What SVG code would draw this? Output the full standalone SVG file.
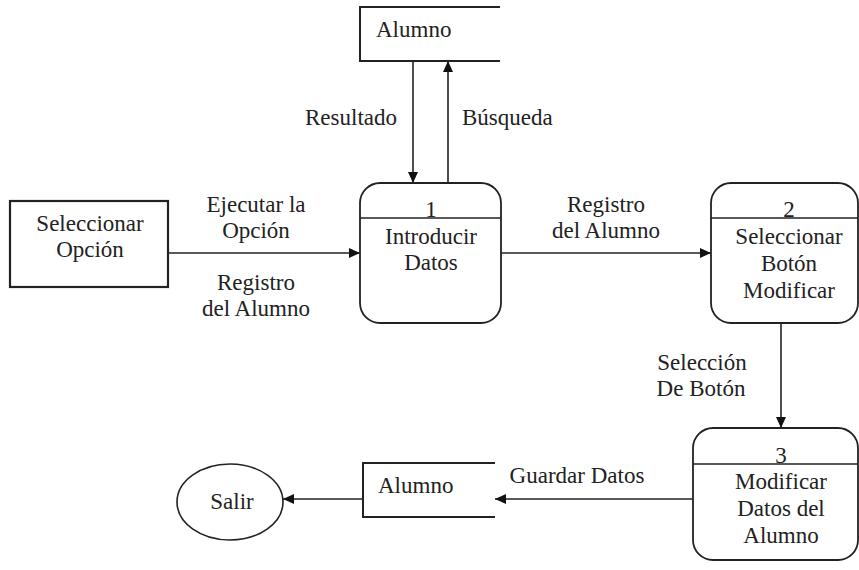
<svg xmlns="http://www.w3.org/2000/svg" width="859" height="570" viewBox="0 0 859 570">
<defs>
<marker id="ah" markerWidth="12" markerHeight="10" refX="11" refY="5" orient="auto" markerUnits="userSpaceOnUse">
<path d="M0,0 L11,5 L0,10 z" fill="#111"/>
</marker>
</defs>
<rect width="859" height="570" fill="#fff"/>
<g id="connectors" stroke="#222" stroke-width="1.6" fill="none">
<line x1="413" y1="61" x2="413" y2="183" marker-end="url(#ah)"/>
<line x1="448" y1="183" x2="448" y2="61" marker-end="url(#ah)"/>
<line x1="168" y1="253" x2="360" y2="253" marker-end="url(#ah)"/>
<line x1="501" y1="253" x2="711" y2="253" marker-end="url(#ah)"/>
<line x1="781" y1="323" x2="781" y2="428" marker-end="url(#ah)"/>
<line x1="693" y1="499" x2="495" y2="499" marker-end="url(#ah)"/>
<line x1="363" y1="499" x2="283" y2="499" marker-end="url(#ah)"/>
</g>
<g id="labels" font-family="Liberation Serif, serif" font-size="23" fill="#222" text-anchor="middle">
<text x="397" y="125" text-anchor="end">Resultado</text>
<text x="462" y="125" text-anchor="start">Búsqueda</text>
<text x="256" y="212">Ejecutar la</text>
<text x="256" y="238">Opción</text>
<text x="256" y="290">Registro</text>
<text x="256" y="316">del Alumno</text>
<text x="606" y="212">Registro</text>
<text x="606" y="238">del Alumno</text>
<text x="702" y="370">Selección</text>
<text x="701" y="396">De Botón</text>
<text x="577" y="483">Guardar Datos</text>
</g>
<g id="store-top">
<path d="M500,7 H360 V61 H500" stroke="#222" stroke-width="2" fill="none"/>
<text x="376" y="37" font-family="Liberation Serif, serif" font-size="23" fill="#222">Alumno</text>
</g>
<g id="seleccionar-opcion" font-family="Liberation Serif, serif" font-size="23" text-anchor="middle">
<rect x="10" y="201" width="158" height="86" stroke="#222" stroke-width="2.2" fill="#fff"/>
<text x="90" y="231" fill="#222">Seleccionar</text>
<text x="90" y="257" fill="#222">Opción</text>
</g>
<g id="p1" font-family="Liberation Serif, serif" font-size="23" text-anchor="middle">
<rect x="360" y="183" width="141" height="140" rx="20" stroke="#222" stroke-width="1.8" fill="#fff"/>
<line x1="360" y1="218" x2="501" y2="218" stroke="#222" stroke-width="1.6"/>
<text x="431" y="217" fill="#222">1</text>
<text x="431" y="244" fill="#222">Introducir</text>
<text x="431" y="270" fill="#222">Datos</text>
</g>
<g id="p2" font-family="Liberation Serif, serif" font-size="23" text-anchor="middle">
<rect x="711" y="183" width="147" height="140" rx="20" stroke="#222" stroke-width="1.8" fill="#fff"/>
<line x1="711" y1="218" x2="858" y2="218" stroke="#222" stroke-width="1.6"/>
<text x="789" y="217" fill="#222">2</text>
<text x="789" y="244" fill="#222">Seleccionar</text>
<text x="789" y="271" fill="#222">Botón</text>
<text x="789" y="298" fill="#222">Modificar</text>
</g>
<g id="p3" font-family="Liberation Serif, serif" font-size="23" text-anchor="middle">
<rect x="693" y="428" width="165" height="132" rx="20" stroke="#222" stroke-width="1.8" fill="#fff"/>
<line x1="693" y1="464" x2="858" y2="464" stroke="#222" stroke-width="1.6"/>
<text x="781" y="463" fill="#222">3</text>
<text x="781" y="489" fill="#222">Modificar</text>
<text x="781" y="516" fill="#222">Datos del</text>
<text x="781" y="543" fill="#222">Alumno</text>
</g>
<g id="store-bottom">
<path d="M495,463 H363 V517 H495" stroke="#222" stroke-width="2" fill="none"/>
<text x="378" y="493" font-family="Liberation Serif, serif" font-size="23" fill="#222">Alumno</text>
</g>
<g id="salir">
<ellipse cx="230" cy="502" rx="53" ry="38" stroke="#222" stroke-width="1.6" fill="#fff"/>
<text x="232" y="509" font-family="Liberation Serif, serif" font-size="23" fill="#222" text-anchor="middle">Salir</text>
</g>
</svg>
